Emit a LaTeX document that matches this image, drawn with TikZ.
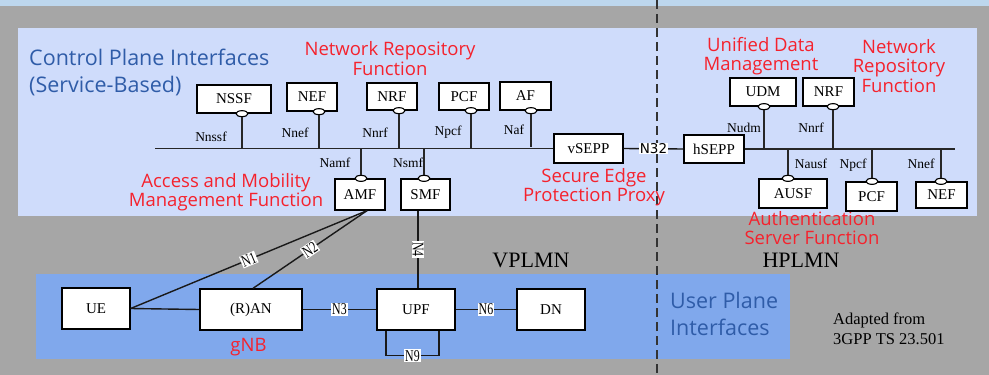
\documentclass[tikz,border=0pt]{standalone}
\usepackage{fontspec}
\setmainfont{Liberation Serif}
\newfontfamily\titlesans{Open Sans}
\newfontfamily\numsans{DejaVu Sans}
\newfontfamily\narrowserif[FakeStretch=0.72]{Liberation Serif}
\usetikzlibrary{shapes.geometric}

\definecolor{bggrey}{HTML}{A6A6A6}
\definecolor{topstrip}{HTML}{BDD7EE}
\definecolor{cpfill}{HTML}{CFDCFB}
\definecolor{upfill}{HTML}{80A8EC}
\definecolor{bluetxt}{HTML}{2F5CA8}
\definecolor{redtxt}{HTML}{F5222D}
\definecolor{dashgrey}{HTML}{333333}

\begin{document}
\begin{tikzpicture}[x=1pt,y=-1pt,
  nfbox/.style 2 args={draw=black, line width=1.3pt, fill=white, inner sep=0pt,
    minimum width=#1, minimum height=#2, font=\fontsize{15}{17}\selectfont},
  port/.style={ellipse, draw=black, line width=1.1pt, fill=white,
    minimum width=12pt, minimum height=6pt, inner sep=0pt},
  bus/.style={line width=1.8pt, draw=black!85},
  stub/.style={line width=1.4pt, draw=black!85},
  link/.style={line width=1.4pt, draw=black!90},
  ifl/.style={font=\fontsize{13.5}{15}\selectfont, inner sep=0pt, anchor=base},
  lbl/.style={fill=white, inner sep=0.8pt, font=\narrowserif\fontsize{16.5}{17}\selectfont},
  redl/.style={text=redtxt, font=\titlesans\fontsize{18.5}{19.5}\selectfont,
    align=center, inner sep=0pt},
  bluel/.style={text=bluetxt, font=\titlesans\fontsize{21.5}{27}\selectfont,
    align=left, inner sep=0pt, anchor=north west},
  plmn/.style={font=\fontsize{22}{24}\selectfont, inner sep=0pt, anchor=base},
]
\useasboundingbox (0,0) rectangle (989,375);

% backgrounds
\fill[bggrey] (0,0) rectangle (989,375);
\fill[topstrip] (0,0) rectangle (989,6);
\fill[cpfill] (18,28) rectangle (977,216);
\fill[upfill] (36,274) rectangle (790,359);

% border between visited and home network
\draw[dashgrey, line width=1.8pt, dash pattern=on 9pt off 5pt] (657,0) -- (657,375);

% titles
\node[bluel] (cpTitle) at (29,48.5) {Control Plane Interfaces\\(Service-Based)};
\node[bluel] (upTitle) at (670,291.5) {User Plane\\Interfaces};
\node[plmn] (vplmn) at (531,267) {VPLMN};
\node[plmn] (hplmn) at (801,267) {HPLMN};
\node[font=\fontsize{16.5}{20}\selectfont, align=left, inner sep=0pt, anchor=north west]
  (source) at (833,312.5) {Adapted from\\3GPP TS 23.501};

% red function names
\node[redl] (lblNRF) at (390,58.5) {Network Repository\\Function};
\node[redl] (lblAMF) at (226,192) {Access and Mobility\\Management Function};
\node[redl] (lblSEPP) at (594,187) {Secure Edge\\Protection Proxy};
\node[redl] (lblUDM) at (761,56) {Unified Data\\Management};
\node[redl] (lblNRFh) at (899,66) {Network\\Repository\\Function};
\node[redl] (lblAUSF) at (812,228) {Authentication\\Server Function};
\node[redl, anchor=base] (lblgNB) at (248.5,351) {gNB};

% visited network functions
\node[nfbox={74pt}{28pt}] (NSSF) at (234,99) {NSSF};
\node[nfbox={50pt}{28pt}] (NEF) at (312,97) {NEF};
\node[nfbox={50pt}{27pt}] (NRF) at (392,96.5) {NRF};
\node[nfbox={50pt}{27pt}] (PCF) at (464,96.5) {PCF};
\node[nfbox={51pt}{28pt}] (AF) at (525.5,96) {AF};
\node[nfbox={69pt}{29pt}] (vSEPP) at (588.5,148.5) {vSEPP};
\node[nfbox={50pt}{31pt}] (AMF) at (360,194.5) {AMF};
\node[nfbox={49pt}{31pt}] (SMF) at (425.5,194.5) {SMF};

% home network functions
\node[nfbox={60pt}{28pt}] (hSEPP) at (714,149) {hSEPP};
\node[nfbox={66pt}{28pt}] (UDM) at (763,92) {UDM};
\node[nfbox={51pt}{28pt}] (NRFh) at (828.5,92) {NRF};
\node[nfbox={68pt}{29pt}] (AUSF) at (793,193.5) {AUSF};
\node[nfbox={51pt}{29pt}] (PCFh) at (871.5,196.5) {PCF};
\node[nfbox={51pt}{26pt}] (NEFh) at (941.5,195) {NEF};

% user plane
\node[nfbox={68pt}{41pt}] (UE) at (96,308.5) {UE};
\node[nfbox={102pt}{41pt}] (RAN) at (251,309.5) {(R)AN};
\node[nfbox={78pt}{41pt}] (UPF) at (416,309.5) {UPF};
\node[nfbox={68pt}{41pt}] (DN) at (551,309.5) {DN};

% service-based buses
\coordinate (busL) at (155,148.5);
\coordinate (busR) at (955,149);
\draw[bus] (busL) -- (vSEPP.west);
\draw[bus] (hSEPP.east) -- (busR);
\draw[link] (vSEPP.east) -- node[fill=white, inner sep=0.6pt, font=\numsans\fontsize{13.5}{15}\selectfont] {N32} (hSEPP.west);

% taps on the visited bus
\coordinate (tNSSF) at (242,148.5);
\coordinate (tNEF) at (319,148.5);
\coordinate (tNRF) at (399,148.5);
\coordinate (tPCF) at (471,148.5);
\coordinate (tAF) at (531,148.5);
\coordinate (tAMF) at (361,148.5);
\coordinate (tSMF) at (424,148.5);
\node[port] (pNSSF) at (NSSF.south -| tNSSF) {};
\node[port] (pNEF) at (NEF.south -| tNEF) {};
\node[port] (pNRF) at (NRF.south -| tNRF) {};
\node[port] (pPCF) at (PCF.south -| tPCF) {};
\node[port] (pAF) at (AF.south -| tAF) {};
\node[port] (pAMF) at (AMF.north -| tAMF) {};
\node[port] (pSMF) at (SMF.north -| tSMF) {};
\draw[stub] (pNSSF) -- (tNSSF);
\draw[stub] (pNEF) -- (tNEF);
\draw[stub] (pNRF) -- (tNRF);
\draw[stub] (pPCF) -- (tPCF);
\draw[stub] (pAF) -- ([yshift=2pt]tAF);
\draw[stub] (pAMF) -- (tAMF);
\draw[stub] (pSMF) -- (tSMF);

% taps on the home bus
\coordinate (tUDM) at (764,149);
\coordinate (tNRFh) at (833,149);
\coordinate (tAUSF) at (788,149);
\coordinate (tPCFh) at (872,149);
\coordinate (tNEFh) at (941,149);
\node[port] (pUDM) at (UDM.south -| tUDM) {};
\node[port] (pNRFh) at (NRFh.south -| tNRFh) {};
\node[port] (pAUSF) at (AUSF.north -| tAUSF) {};
\node[port] (pPCFh) at (PCFh.north -| tPCFh) {};
\node[port] (pNEFh) at (NEFh.north -| tNEFh) {};
\draw[stub] (pUDM) -- (tUDM);
\draw[stub] (pNRFh) -- (tNRFh);
\draw[stub] (pAUSF) -- (tAUSF);
\draw[stub] (pPCFh) -- (tPCFh);
\draw[stub] (pNEFh) -- (tNEFh);

% service interface names
\node[ifl] (iNSSF) at (211,141.5) {Nnssf};
\node[ifl] (iNEF) at (295,137) {Nnef};
\node[ifl] (iNRF) at (375,137) {Nnrf};
\node[ifl] (iPCF) at (448,135) {Npcf};
\node[ifl] (iAF) at (514,134) {Naf};
\node[ifl] (iAMF) at (335,167) {Namf};
\node[ifl] (iSMF) at (408,167) {Nsmf};
\node[ifl] (iUDM) at (744,132) {Nudm};
\node[ifl] (iNRFh) at (811,132) {Nnrf};
\node[ifl] (iAUSF) at (811,168.5) {Nausf};
\node[ifl] (iPCFh) at (853,168.5) {Npcf};
\node[ifl] (iNEFh) at (921,168.5) {Nnef};

% reference points
\draw[link] (UE.east) -- (RAN.west);
\draw[link] (UE.east) -- node[lbl, sloped] {N1} ([xshift=7pt]AMF.south);
\draw[link] ([xshift=2pt]RAN.north) -- node[lbl, sloped] {N2} ([xshift=7pt]AMF.south);
\draw[link] (RAN.east) -- node[lbl] {N3} (UPF.west);
\draw[link] ([xshift=-7.5pt]SMF.south) -- node[lbl, rotate=-90] {N4} ([xshift=2pt]UPF.north);
\draw[link] (UPF.east) -- node[lbl] {N6} (DN.west);
\draw[link] ([xshift=-30pt]UPF.south) -- ++(0,25) -- node[lbl] {N9} ++(53,0) -- ([xshift=23pt]UPF.south);

\end{tikzpicture}
\end{document}
